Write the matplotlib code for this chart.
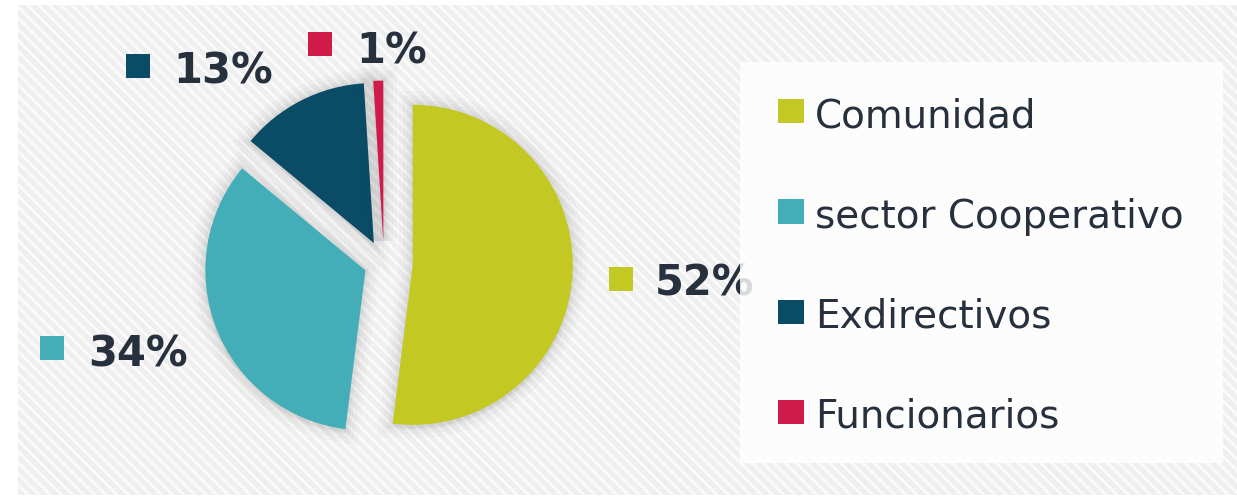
import matplotlib
matplotlib.use("Agg")
import matplotlib.pyplot as plt
from matplotlib.patches import Rectangle
import matplotlib.patheffects as pe

# ---- data ----
categories = ["Comunidad", "sector Cooperativo", "Exdirectivos", "Funcionarios"]
values = [52, 34, 13, 1]
pct_labels = ["52%", "34%", "13%", "1%"]
colors = ["#c3c922", "#43aeb8", "#0a4c66", "#cf1a4a"]
explode = [0.18, 0.125, 0.14, 0.14]

plt.rcParams["hatch.linewidth"] = 2.0

W, H = 1237, 498
fig = plt.figure(figsize=(W / 100, H / 100), dpi=100)
fig.patch.set_facecolor("white")
TXT = "#27303d"


def fx(x):
    return x / W


def fy(y):
    return 1 - y / H


# background with diagonal stripes
bg = Rectangle((fx(18), fy(495)), fx(1237) - fx(18), fy(5) - fy(495),
               transform=fig.transFigure, facecolor="#efefef",
               edgecolor="#fbfbfb", hatch="\\\\\\", linewidth=0, zorder=-5)
fig.add_artist(bg)

# pie axes: center (384,263) px, radius 160 px
L = 1.5
side = 480
cx, cy = 384, 263
ax = fig.add_axes([fx(cx - side / 2), fy(cy + side / 2), side / W, side / H])

wedges, _ = ax.pie(values, colors=colors, startangle=90, counterclock=False,
                   explode=explode, radius=1.0,
                   wedgeprops=dict(linewidth=0))
ax.set_xlim(-L, L)
ax.set_ylim(-L, L)
ax.axis("off")
ax.patch.set_alpha(0)

shadow = [pe.SimplePatchShadow(offset=(0, -3), shadow_rgbFace="#000000", alpha=0.03)]
for lw, a in [(20, 0.018), (14, 0.022), (8, 0.028), (4, 0.03)]:
    shadow.append(pe.Stroke(linewidth=lw, foreground="#000000", alpha=a))
shadow.append(pe.Normal())
for w in wedges:
    w.set_path_effects(shadow)

# percentage labels (square marker + bold text)
label_sq = [(621, 279), (52, 348), (138, 66), (320, 44)]
label_txt = [(655, 295), (88, 366), (173, 83), (356, 63)]
sq = 24
for (sx, sy), (tx, ty), lab, c in zip(label_sq, label_txt, pct_labels, colors):
    fig.add_artist(Rectangle((fx(sx - sq / 2), fy(sy + sq / 2)), sq / W, sq / H,
                             transform=fig.transFigure, facecolor=c,
                             edgecolor="none", zorder=2))
    fig.text(fx(tx), fy(ty), lab, fontsize=30, fontweight="bold", color=TXT,
             ha="left", va="baseline", family="DejaVu Sans", zorder=3)

# legend box
fig.add_artist(Rectangle((fx(740), fy(463)), fx(1223) - fx(740), fy(62) - fy(463),
                         transform=fig.transFigure, facecolor="white",
                         edgecolor="none", alpha=0.82, zorder=4))
leg_y0 = 111.5
leg_dy = 100
for i, (cat, c) in enumerate(zip(categories, colors)):
    yc = leg_y0 + i * leg_dy
    fig.add_artist(Rectangle((fx(778), fy(yc + 12)), 26 / W, 24 / H,
                             transform=fig.transFigure, facecolor=c,
                             edgecolor="none", zorder=5))
    fig.text(fx(815), fy(yc + 16), cat, fontsize=28, color=TXT,
             ha="left", va="baseline", family="DejaVu Sans", zorder=6)

fig.savefig("out.png", dpi=100, facecolor="white")
